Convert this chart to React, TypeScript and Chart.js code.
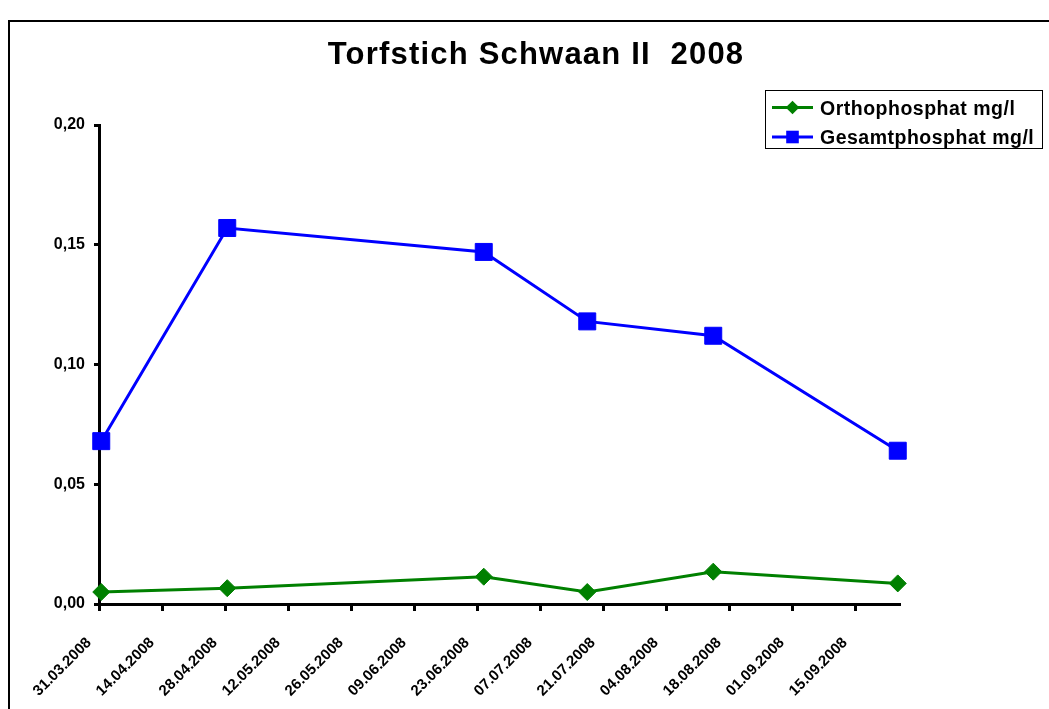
import React, { useEffect, useRef } from "react";
import { Chart, registerables } from "chart.js";

Chart.register(...registerables);

// ---- data ----
const chartTitle = "Torfstich Schwaan II  2008";
const sampleDates = ["31.03.2008", "28.04.2008", "24.06.2008", "17.07.2008", "14.08.2008", "24.09.2008"];
const orthophosphatValues = [0.005, 0.0066, 0.0114, 0.005, 0.0135, 0.0086];
const gesamtphosphatValues = [0.068, 0.157, 0.147, 0.118, 0.112, 0.064];
const seriesLabels = ["Orthophosphat mg/l", "Gesamtphosphat mg/l"];
const seriesColors = ["#008000", "#0000FF"];
const seriesMarkers = ["rectRot", "rect"];
const xTickLabels = [
  "31.03.2008", "14.04.2008", "28.04.2008", "12.05.2008", "26.05.2008", "09.06.2008", "23.06.2008",
  "07.07.2008", "21.07.2008", "04.08.2008", "18.08.2008", "01.09.2008", "15.09.2008",
];
const axisStartDate = "31.03.2008";
const axisEndDate = "25.09.2008";
const yTickValues = [0, 0.05, 0.1, 0.15, 0.2];

const FONT = 'Arial, "Liberation Sans", sans-serif';

function toUTC(d: string) {
  const [dd, mm, yy] = d.split(".").map(Number);
  return Date.UTC(yy, mm - 1, dd);
}
function dayOffset(d: string) {
  return (toUTC(d) - toUTC(axisStartDate)) / 86400000;
}

const xTickDays = xTickLabels.map(dayOffset);
// each sample sits in the middle of its day slot
const sampleX = sampleDates.map((d) => dayOffset(d) + 0.5);

function drawMarker(ctx: CanvasRenderingContext2D, style: string, x: number, y: number, r: number) {
  ctx.beginPath();
  if (style === "rect") {
    ctx.rect(x - r, y - r, 2 * r, 2 * r);
  } else {
    ctx.moveTo(x - r, y);
    ctx.lineTo(x, y - r);
    ctx.lineTo(x + r, y);
    ctx.lineTo(x, y + r);
    ctx.closePath();
  }
  ctx.fill();
}

const decorPlugin = {
  id: "decor",
  beforeDraw(chart: any) {
    const ctx = chart.ctx as CanvasRenderingContext2D;
    ctx.save();
    ctx.fillStyle = "#ffffff";
    ctx.fillRect(0, 0, chart.width, chart.height);
    ctx.strokeStyle = "#000000";
    ctx.lineWidth = 2;
    ctx.strokeRect(9, 21, 1300, 1000);
    ctx.restore();
  },
  afterDraw(chart: any) {
    const ctx = chart.ctx as CanvasRenderingContext2D;
    // title
    ctx.save();
    ctx.fillStyle = "#000";
    ctx.font = `bold 31px ${FONT}`;
    (ctx as any).letterSpacing = "1.2px";
    ctx.textAlign = "center";
    ctx.textBaseline = "alphabetic";
    ctx.fillText(chartTitle, 536, 64);
    ctx.restore();

    // legend
    ctx.save();
    ctx.strokeStyle = "#000";
    ctx.lineWidth = 1;
    ctx.strokeRect(765.5, 90.5, 277, 58);
    seriesLabels.forEach((label, i) => {
      const y = 107.5 + i * 29.5;
      ctx.strokeStyle = seriesColors[i];
      ctx.fillStyle = seriesColors[i];
      ctx.lineWidth = 3;
      ctx.beginPath();
      ctx.moveTo(772, y);
      ctx.lineTo(813, y);
      ctx.stroke();
      drawMarker(ctx, seriesMarkers[i], 792.5, y, seriesMarkers[i] === "rect" ? 6.3 : 6.8);
      ctx.fillStyle = "#000";
      ctx.font = `bold 19.5px ${FONT}`;
      (ctx as any).letterSpacing = "0.5px";
      ctx.textAlign = "left";
      ctx.textBaseline = "alphabetic";
      ctx.fillText(label, 820, y + 7);
    });
    ctx.restore();
  },
};

export default function App() {
  const ref = useRef<HTMLCanvasElement>(null);

  useEffect(() => {
    const canvas = ref.current;
    if (!canvas) return;
    const datasets = [orthophosphatValues, gesamtphosphatValues].map((vals, i) => ({
      label: seriesLabels[i],
      data: vals.map((v, j) => ({ x: sampleX[j], y: v })),
      borderColor: seriesColors[i],
      backgroundColor: seriesColors[i],
      borderWidth: 3,
      tension: 0,
      pointStyle: seriesMarkers[i],
      pointRadius: seriesMarkers[i] === "rect" ? 12 : 8.5,
      pointBorderWidth: 1,
      pointBorderColor: seriesColors[i],
      pointBackgroundColor: seriesColors[i],
      clip: false as any,
    }));

    const chart = new Chart(canvas, {
      type: "line",
      data: { datasets },
      plugins: [decorPlugin],
      options: {
        animation: false,
        responsive: false,
        devicePixelRatio: 1,
        events: [],
        layout: { padding: { top: 125, right: 149, bottom: 0, left: 0 } },
        plugins: {
          legend: { display: false },
          title: { display: false },
          tooltip: { enabled: false },
        },
        scales: {
          x: {
            type: "linear",
            min: 0,
            max: dayOffset(axisEndDate),
            afterBuildTicks: (scale: any) => {
              scale.ticks = xTickDays.map((v) => ({ value: v }));
            },
            afterFit: (scale: any) => {
              scale.height = 105;
            },
            ticks: {
              autoSkip: false,
              minRotation: 45,
              maxRotation: 45,
              padding: 23,
              labelOffset: -10,
              color: "#000",
              font: { family: FONT, size: 15, weight: "bold" },
              callback: (_v: any, idx: number) => xTickLabels[idx],
            },
            grid: {
              display: true,
              drawOnChartArea: false,
              drawTicks: true,
              tickLength: 7,
              tickWidth: 3,
              tickColor: "#000",
            },
            border: { display: true, color: "#000", width: 3 },
          },
          y: {
            type: "linear",
            min: 0,
            max: 0.2,
            afterBuildTicks: (scale: any) => {
              scale.ticks = yTickValues.map((v) => ({ value: v }));
            },
            afterFit: (scale: any) => {
              scale.width = 99;
            },
            ticks: {
              padding: 9,
              color: "#000",
              font: { family: FONT, size: 16, weight: "bold" },
              callback: (v: any) => Number(v).toFixed(2).replace(".", ","),
            },
            grid: {
              display: true,
              drawOnChartArea: false,
              drawTicks: true,
              tickLength: 5,
              tickWidth: 3,
              tickColor: "#000",
            },
            border: { display: true, color: "#000", width: 3 },
          },
        },
      } as any,
    });
    return () => chart.destroy();
  }, []);

  return (
    <canvas
      ref={ref}
      width={1049}
      height={709}
      style={{ position: "fixed", left: 0, top: 0, width: 1049, height: 709, display: "block" }}
    />
  );
}
